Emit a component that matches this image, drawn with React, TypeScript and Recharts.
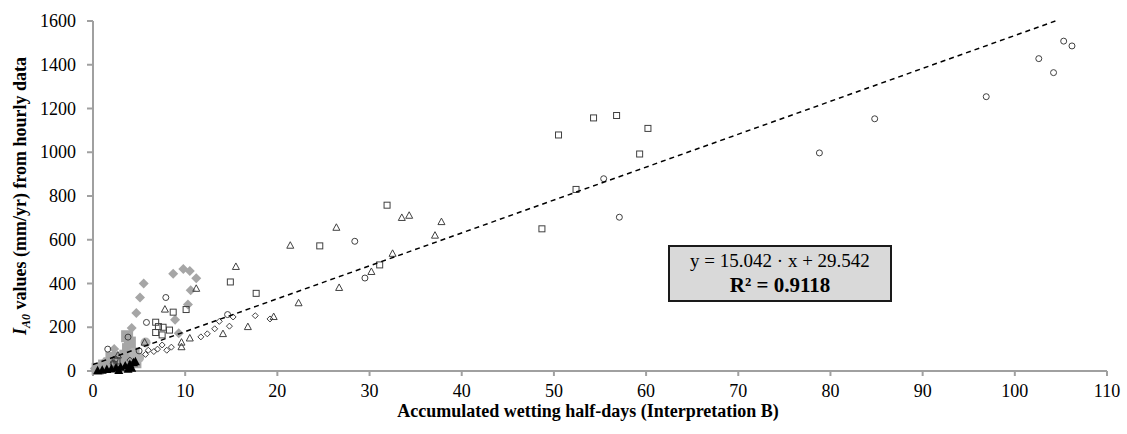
import React from "react";
import {
  ScatterChart,
  Scatter,
  XAxis,
  YAxis,
} from "recharts";

// x = accumulated wetting half-days, y = I_A0 (mm/yr)
const openCircles = [
  [1.6, 100], [2.2, 35], [2.4, 54], [3.8, 155], [5.0, 92], [5.8, 222], [7.9, 336],
  [14.6, 258], [28.4, 593], [29.5, 425], [55.4, 879], [57.1, 703], [78.8, 997],
  [84.8, 1153], [96.9, 1254], [102.6, 1428], [104.2, 1364], [105.3, 1508], [106.2, 1486],
];
const openSquares = [
  [2.3, 28], [2.6, 46], [6.8, 176], [6.8, 223], [7.1, 203], [7.5, 165], [7.6, 200],
  [8.3, 187], [8.7, 269], [10.1, 281], [14.9, 407], [17.7, 355], [24.6, 572],
  [31.1, 485], [31.9, 758], [48.7, 650], [50.5, 1079], [52.4, 830], [54.3, 1157],
  [56.8, 1168], [59.3, 992], [60.2, 1109],
];
const openTriangles = [
  [2.7, 73], [5.6, 132], [7.8, 283], [9.6, 111], [9.6, 132], [10.5, 151], [11.2, 378],
  [14.1, 171], [15.5, 478], [16.8, 203], [19.6, 249], [21.4, 575], [22.3, 312],
  [26.4, 657], [26.7, 382], [30.2, 455], [32.5, 538], [33.5, 702], [34.3, 712],
  [37.1, 621], [37.8, 683],
];
const openDiamonds = [
  [4.0, 50], [5.7, 76], [6.0, 95], [6.6, 89], [7.0, 100], [7.5, 119], [8.0, 95],
  [8.5, 109], [11.7, 156], [12.4, 170], [13.2, 193], [13.7, 227], [14.8, 205],
  [15.2, 247], [17.6, 253], [19.2, 238],
];
const grayDiamonds = [
  [0.2, 12], [1.2, 40], [2.3, 101], [3.7, 145], [4.2, 197], [4.7, 265], [5.1, 336],
  [5.5, 400], [8.7, 445], [9.8, 466], [10.5, 457], [11.2, 424], [10.6, 369],
  [10.3, 304], [8.9, 234], [9.3, 173],
];
const graySquares = [
  [0.5, 10], [1.2, 25], [1.8, 35], [2.0, 60], [2.5, 45], [3.0, 55], [3.3, 40],
  [3.5, 70], [3.7, 159], [3.8, 100], [4.0, 130], [4.4, 80], [4.6, 40],
];
const grayCircles = [
  [2.8, 15], [4.4, 83], [5.0, 61], [5.7, 130],
];
const blackTriangles = [
  [0.5, 3], [1.0, 6], [1.5, 9], [2.0, 12], [2.5, 16], [2.8, 5], [3.0, 20],
  [3.5, 25], [3.8, 10], [4.0, 32], [4.2, 15], [4.4, 40], [4.6, 45],
];

// linear trend y = 15.042 x + 29.542
const slope = 15.042;
const intercept = 29.542;
const trendX = [0, 104.4];

const xTicks = [0, 10, 20, 30, 40, 50, 60, 70, 80, 90, 100, 110];
const yTicks = [0, 200, 400, 600, 800, 1000, 1200, 1400, 1600];

const toPts = (arr: number[][]) => arr.map(([x, y]) => ({ x, y }));
const trend = trendX.map((x) => ({ x, y: slope * x + intercept }));

const FONT = "Liberation Serif";
const MARK = "#404040";

const circleShape = (p: any) => (
  <circle cx={p.cx} cy={p.cy} r={3} fill="none" stroke={MARK} strokeWidth={1} />
);
const squareShape = (p: any) => (
  <rect x={p.cx - 3} y={p.cy - 3} width={6} height={6} fill="none" stroke={MARK} strokeWidth={1} />
);
const triShape = (p: any) => (
  <polygon
    points={`${p.cx},${p.cy - 3.5} ${p.cx + 3.5},${p.cy + 3} ${p.cx - 3.5},${p.cy + 3}`}
    fill="none"
    stroke={MARK}
    strokeWidth={1}
  />
);
const diamondShape = (p: any) => (
  <polygon
    points={`${p.cx},${p.cy - 3} ${p.cx + 3},${p.cy} ${p.cx},${p.cy + 3} ${p.cx - 3},${p.cy}`}
    fill="none"
    stroke={MARK}
    strokeWidth={1}
  />
);
const grayDiamondShape = (p: any) => (
  <polygon
    points={`${p.cx},${p.cy - 5} ${p.cx + 5},${p.cy} ${p.cx},${p.cy + 5} ${p.cx - 5},${p.cy}`}
    fill="#a6a6a6"
  />
);
const graySquareShape = (p: any) => (
  <rect x={p.cx - 6} y={p.cy - 6} width={12} height={12} fill="#a6a6a6" />
);
const grayCircleShape = (p: any) => (
  <circle cx={p.cx} cy={p.cy} r={5} fill="#b3b3b3" />
);
const blackTriShape = (p: any) => (
  <polygon
    points={`${p.cx},${p.cy - 4.5} ${p.cx + 4.5},${p.cy + 4} ${p.cx - 4.5},${p.cy + 4}`}
    fill="#000"
  />
);
const noShape = () => <g />;

const XTick = (p: any) => (
  <text x={p.x} y={p.y} dy={13} textAnchor="middle" fontFamily={FONT} fontSize={18} fill="#000">
    {p.payload.value}
  </text>
);
const YTick = (p: any) => (
  <text x={p.x} y={p.y} dy={6} textAnchor="end" fontFamily={FONT} fontSize={18} fill="#000">
    {p.payload.value}
  </text>
);

const YLabel = () => (
  <text
    transform="translate(26, 196) rotate(-90)"
    textAnchor="middle"
    fontFamily={FONT}
    fontWeight="bold"
    fontSize={18}
    fill="#000"
  >
    <tspan fontStyle="italic">I</tspan>
    <tspan fontStyle="italic" fontSize={12} dy={4}>A0</tspan>
    <tspan dy={-4}> values (mm/yr) from hourly data</tspan>
  </text>
);

const XLabel = (props: any) => {
  const vb = props.viewBox || {};
  return (
    <text
      x={vb.x + vb.width / 2 - 12}
      y={417}
      textAnchor="middle"
      fontFamily={FONT}
      fontWeight="bold"
      fontSize={18}
      fill="#000"
    >
      Accumulated wetting half-days (Interpretation B)
    </text>
  );
};

const axisLine = { stroke: "#a0a0a0", strokeWidth: 2 };

export default function App() {
  return (
    <div
      style={{
        position: "absolute",
        left: 0,
        top: 0,
        width: 1127,
        height: 434,
        background: "#fff",
        fontFamily: FONT,
      }}
    >
      <ScatterChart
        width={1127}
        height={434}
        margin={{ top: 21, right: 20, bottom: 0, left: 0 }}
        style={{ fontFamily: FONT }}
      >
        <XAxis
          type="number"
          dataKey="x"
          domain={[0, 110]}
          ticks={xTicks}
          interval={0}
          height={63}
          tick={<XTick />}
          tickSize={5}
          tickMargin={8}
          axisLine={axisLine}
          tickLine={axisLine}
          label={<XLabel />}
        />
        <YAxis
          type="number"
          dataKey="y"
          domain={[0, 1600]}
          ticks={yTicks}
          interval={0}
          width={93}
          tick={<YTick />}
          tickSize={6}
          tickMargin={11}
          axisLine={axisLine}
          tickLine={axisLine}
          label={<YLabel />}
        />
        <Scatter data={toPts(grayDiamonds)} shape={grayDiamondShape} isAnimationActive={false} />
        <Scatter data={toPts(graySquares)} shape={graySquareShape} isAnimationActive={false} />
        <Scatter data={toPts(grayCircles)} shape={grayCircleShape} isAnimationActive={false} />
        <Scatter data={toPts(openDiamonds)} shape={diamondShape} isAnimationActive={false} />
        <Scatter data={toPts(openTriangles)} shape={triShape} isAnimationActive={false} />
        <Scatter data={toPts(openSquares)} shape={squareShape} isAnimationActive={false} />
        <Scatter data={toPts(openCircles)} shape={circleShape} isAnimationActive={false} />
        <Scatter data={toPts(blackTriangles)} shape={blackTriShape} isAnimationActive={false} />
        <Scatter
          data={trend}
          shape={noShape}
          line={{ stroke: "#000", strokeWidth: 1.5, strokeDasharray: "5 4" }}
          isAnimationActive={false}
        />
      </ScatterChart>
      <div
        style={{
          position: "absolute",
          left: 668,
          top: 245,
          width: 224,
          height: 57,
          boxSizing: "border-box",
          border: "2.5px solid #1a1a1a",
          background: "#d9d9d9",
          fontFamily: FONT,
          color: "#000",
          textAlign: "center",
          lineHeight: "24px",
          paddingTop: 2,
        }}
      >
        <div style={{ fontSize: 19 }}>y = 15.042 · x + 29.542</div>
        <div style={{ fontSize: 21, fontWeight: "bold" }}>R² = 0.9118</div>
      </div>
    </div>
  );
}
